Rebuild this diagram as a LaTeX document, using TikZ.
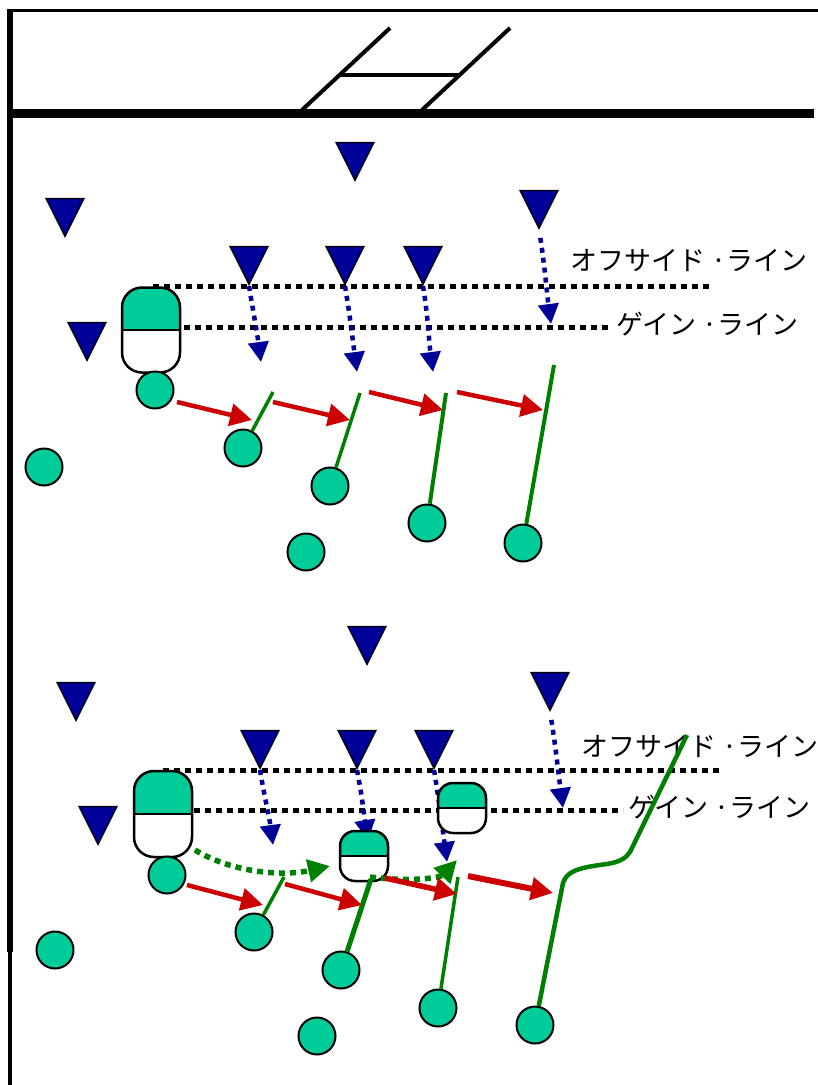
\documentclass[tikz,border=0pt]{standalone}
\usepackage{fontspec}
\newfontfamily\jpfont{Noto Sans CJK JP}
\usetikzlibrary{arrows.meta,shapes.geometric}

\definecolor{mint}{RGB}{0,204,153}
\definecolor{navy}{RGB}{0,0,153}
\definecolor{runred}{RGB}{204,0,0}
\definecolor{passgreen}{RGB}{0,128,0}

\tikzset{
  defender/.style={draw=black, line width=1.2pt, fill=navy, isosceles triangle,
    isosceles triangle stretches, shape border rotate=-90,
    minimum width=38pt, minimum height=38pt, inner sep=0pt, anchor=apex},
  player/.style={draw=black, line width=2pt, fill=mint, circle, minimum size=37pt, inner sep=0pt},
  carrier/.style={draw=black, line width=2.5pt, fill=white, rounded corners=20pt, inner sep=0pt,
    path picture={
      \fill[mint, sharp corners] (path picture bounding box.north west) rectangle (path picture bounding box.east);
      \draw[line width=2.5pt, sharp corners] (path picture bounding box.west) -- (path picture bounding box.east);}},
  fieldline/.style={line width=5pt, dash pattern=on 6pt off 5pt},
  label/.style={anchor=west, inner sep=0pt, font=\jpfont\fontsize{27}{30}\selectfont},
  drift/.style={navy, line width=4.5pt, dash pattern=on 5pt off 5pt, -{Triangle[width=20pt,length=20pt]}},
  run/.style={runred, line width=4.5pt, -{Triangle[width=22pt,length=22pt]}},
  pass/.style={passgreen, line width=3.5pt},
  dummy/.style={passgreen, line width=5.5pt, dash pattern=on 6pt off 5pt, -{Triangle[width=22pt,length=22pt]}}
}

\begin{document}
\begin{tikzpicture}[x=1pt, y=-1pt]
    \useasboundingbox (0,0) rectangle (818,1085);

    % field border, try line, posts
    \draw[line width=3pt] (8,10) -- (818,10);
    \draw[line width=6pt] (10,9) -- (10,952);
    \draw[line width=4pt] (10,952) -- (10,1085);
    \draw[line width=9pt] (10,113) -- (814,113);
    \draw[line width=4pt] (302,110) -- (390,28);
    \draw[line width=4pt] (422,110) -- (510,28);
    \draw[line width=4pt] (340,75) -- (460,75);

    %% upper play
    \draw[fieldline] (153,286) -- (710,286);
    \draw[fieldline] (173,327) -- (612,327);
    \node [label] (off1) at (570,261) {オフサイド ·ライン};
    \node [label] (gain1) at (616,324) {ゲイン ·ライン};

    \node [defender] (d1) at (355,182) {};
    \node [defender] (d2) at (65,238) {};
    \node [defender] (d3) at (539,230) {};
    \node [defender] (d4) at (249,286) {};
    \node [defender] (d5) at (345,286) {};
    \node [defender] (d6) at (423,286) {};
    \node [defender] (d7) at (87,362) {};

    \coordinate (t1) at (261,362);
    \coordinate (t2) at (357,372);
    \coordinate (t3) at (433,372);
    \coordinate (t4) at (551,324);
    \draw[drift] (d4.apex) .. controls +(5,30) and +(-4,-30) .. (t1);
    \draw[drift] (d5.apex) .. controls +(5,30) and +(-4,-30) .. (t2);
    \draw[drift] (d6.apex) .. controls +(5,30) and +(-4,-30) .. (t3);
    \draw[drift, shorten <=8pt] (d3.apex) .. controls +(5,30) and +(-4,-30) .. (t4);

    \node [carrier, minimum width=58pt, minimum height=85pt] (q1) at (151,330) {};

    \node [player] (a1) at (155,390) {};
    \node [player] (a2) at (243,448) {};
    \node [player] (a3) at (330,486) {};
    \node [player] (a4) at (427,523) {};
    \node [player] (a5) at (523,543) {};
    \node [player] (a6) at (44,467) {};
    \node [player] (a7) at (306,552) {};

    \coordinate (g1) at (273,392);
    \coordinate (g2) at (360,393);
    \coordinate (g3) at (446,393);
    \coordinate (g4) at (554,365);
    \draw[pass] (a2) -- (g1);
    \draw[pass] (a3) -- (g2);
    \draw[pass, line width=4pt] (a4) -- (g3);
    \draw[pass, line width=4pt] (a5) -- (g4);

    \coordinate (r1a) at (177,402);  \coordinate (r1b) at (252,420);
    \coordinate (r2a) at (273,402);  \coordinate (r2b) at (350,420);
    \coordinate (r3a) at (369,392);  \coordinate (r3b) at (443,410);
    \coordinate (r4a) at (457,392);  \coordinate (r4b) at (543,410);
    \draw[run] (r1a) -- (r1b);
    \draw[run] (r2a) -- (r2b);
    \draw[run] (r3a) -- (r3b);
    \draw[run] (r4a) -- (r4b);

    %% lower play
    \draw[fieldline] (163,770) -- (720,770);
    \draw[fieldline] (183,810) -- (623,810);
    \node [label] (off2) at (581,747) {オフサイド ·ライン};
    \node [label] (gain2) at (628,807) {ゲイン ·ライン};

    \node [defender] (e1) at (367,666) {};
    \node [defender] (e2) at (76,722) {};
    \node [defender] (e3) at (550,712) {};
    \node [defender] (e4) at (260,770) {};
    \node [defender] (e5) at (357,770) {};
    \node [defender] (e6) at (434,770) {};
    \node [defender] (e7) at (98,846) {};

    \coordinate (u1) at (273,845);
    \coordinate (u2) at (368,840);
    \coordinate (u3) at (447,862);
    \coordinate (u4) at (563,808);
    \draw[drift] (e4.apex) .. controls +(5,30) and +(-4,-30) .. (u1);
    \draw[drift] (e5.apex) .. controls +(5,25) and +(-4,-25) .. (u2);
    \draw[drift] (e6.apex) .. controls +(5,30) and +(-4,-30) .. (u3);
    \draw[drift, shorten <=8pt] (e3.apex) .. controls +(5,30) and +(-4,-30) .. (u4);

    \node [carrier, minimum width=58pt, minimum height=86pt] (q2) at (163,814) {};
    \node [carrier, minimum width=48pt, minimum height=50pt, rounded corners=15pt] (q3) at (364,856) {};
    \node [carrier, minimum width=48pt, minimum height=50pt, rounded corners=15pt] (q4) at (462,808) {};

    \node [player] (b1) at (167,875) {};
    \node [player] (b2) at (254,932) {};
    \node [player] (b3) at (341,970) {};
    \node [player] (b4) at (438,1008) {};
    \node [player] (b5) at (535,1025) {};
    \node [player] (b6) at (55,950) {};
    \node [player] (b7) at (317,1036) {};

    \coordinate (h1) at (284,877);
    \coordinate (h2) at (371,879);
    \coordinate (h3) at (458,877);
    \coordinate (h4) at (563,883);
    \coordinate (h5) at (687,735);
    \draw[pass] (b2) -- (h1);
    \draw[pass, line width=5pt] (b3) -- (h2);
    \draw[pass] (b4) -- (h3);
    \draw[pass, line width=4.5pt] (b5) -- (h4) .. controls (567,872) and (575,868) .. (607,864)
        .. controls (620,862) and (626,858) .. (630,852) -- (h5);

    \coordinate (f1a) at (195,850);  \coordinate (f1b) at (330,866);
    \coordinate (f2a) at (370,877);  \coordinate (f2b) at (457,860);
    \draw[dummy] (f1a) .. controls (235,874) and (285,876) .. (f1b);
    \draw[dummy] (f2a) .. controls (410,882) and (440,878) .. (f2b);

    \coordinate (s1a) at (187,885);  \coordinate (s1b) at (263,905);
    \coordinate (s2a) at (285,884);  \coordinate (s2b) at (362,905);
    \coordinate (s3a) at (385,878);  \coordinate (s3b) at (457,894);
    \coordinate (s4a) at (468,876);  \coordinate (s4b) at (553,893);
    \draw[run] (s1a) -- (s1b);
    \draw[run] (s2a) -- (s2b);
    \draw[run, line width=5.5pt] (s3a) -- (s3b);
    \draw[run, line width=6pt] (s4a) -- (s4b);
\end{tikzpicture}
\end{document}
